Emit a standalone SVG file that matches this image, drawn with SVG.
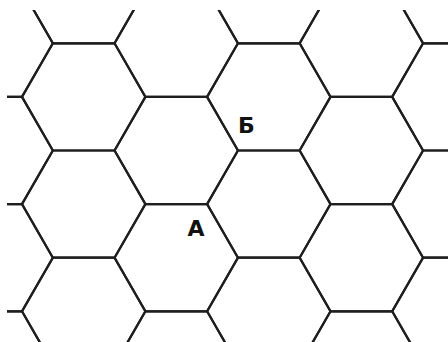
<svg xmlns="http://www.w3.org/2000/svg" xmlns:xlink="http://www.w3.org/1999/xlink" width="448" height="342" viewBox="0 0 448 342">
<style>
.hex{fill:none;stroke:#1e1e1e;stroke-width:2.2;stroke-linejoin:miter}
.lbl{font-family:"DejaVu Sans","Liberation Sans",sans-serif;font-weight:bold;font-size:22px;fill:#111;text-anchor:middle}
</style>
<defs>
<polygon id="h" points="-61.7,0 -30.85,-53.6 30.85,-53.6 61.7,0 30.85,53.6 -30.85,53.6"/>
<clipPath id="c"><rect x="7" y="10" width="441" height="332"/></clipPath>
</defs>
<rect width="448" height="342" fill="#fff"/>
<g id="connectors" class="hex" clip-path="url(#c)">
<use xlink:href="#h" x="-8.85" y="43.3"/>
<use xlink:href="#h" x="-8.85" y="150.5"/>
<use xlink:href="#h" x="-8.85" y="257.7"/>
<use xlink:href="#h" x="-8.85" y="364.9"/>
<use xlink:href="#h" x="83.7" y="-10.3"/>
<use xlink:href="#h" x="83.7" y="96.9"/>
<use xlink:href="#h" x="83.7" y="204.1"/>
<use xlink:href="#h" x="83.7" y="311.3"/>
<use xlink:href="#h" x="176.25" y="43.3"/>
<use xlink:href="#h" x="176.25" y="150.5"/>
<use xlink:href="#h" x="176.25" y="257.7"/>
<use xlink:href="#h" x="176.25" y="364.9"/>
<use xlink:href="#h" x="268.8" y="-10.3"/>
<use xlink:href="#h" x="268.8" y="96.9"/>
<use xlink:href="#h" x="268.8" y="204.1"/>
<use xlink:href="#h" x="268.8" y="311.3"/>
<use xlink:href="#h" x="361.35" y="43.3"/>
<use xlink:href="#h" x="361.35" y="150.5"/>
<use xlink:href="#h" x="361.35" y="257.7"/>
<use xlink:href="#h" x="361.35" y="364.9"/>
<use xlink:href="#h" x="453.9" y="-10.3"/>
<use xlink:href="#h" x="453.9" y="96.9"/>
<use xlink:href="#h" x="453.9" y="204.1"/>
<use xlink:href="#h" x="453.9" y="311.3"/>
</g>
<g id="label-B"><text class="lbl" x="246.5" y="133">Б</text></g>
<g id="label-A"><text class="lbl" x="196" y="236">А</text></g>
</svg>
